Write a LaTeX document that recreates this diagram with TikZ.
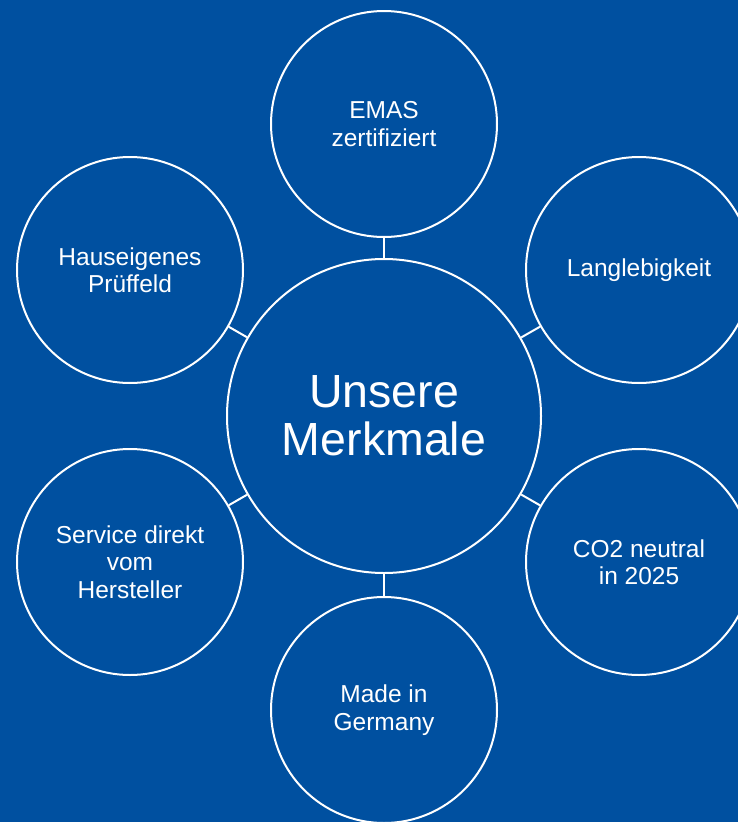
\documentclass[tikz,border=0pt]{standalone}
\usepackage{fontspec}
\setmainfont{Liberation Sans}
\definecolor{bgColor}{RGB}{0,80,160}
\tikzset{
  hub/.style={circle,draw=white,line width=2pt,minimum size=314pt,inner sep=0pt,
    text=white,align=center,font=\fontsize{46.5}{48}\selectfont},
  item/.style={circle,draw=white,line width=2pt,minimum size=226pt,inner sep=0pt,
    text=white,align=center,font=\fontsize{24.5}{27.5}\selectfont},
  link/.style={draw=white,line width=2pt}
}
\begin{document}
\begin{tikzpicture}[x=1pt,y=-1pt]
\path[use as bounding box,fill=bgColor] (0,0) rectangle (738,822);

\node[hub] (merkmale) at (384,416) {Unsere\\Merkmale};

\node[item] (emas)    at (384,124) {EMAS\\zertifiziert};
\node[item] (lang)    at (639,270) {Langlebigkeit};
\node[item] (co2)     at (639,562) {CO2 neutral\\in 2025};
\node[item] (made)    at (384,710) {Made in\\Germany};
\node[item] (service) at (130,562) {Service direkt\\vom\\Hersteller};
\node[item] (pruef)   at (130,270) {Hauseigenes\\Prüffeld};

% spokes from the hub
\foreach \n in {emas,lang,co2,made,service,pruef}
  \draw[link] (merkmale) -- (\n);
\end{tikzpicture}
\end{document}
